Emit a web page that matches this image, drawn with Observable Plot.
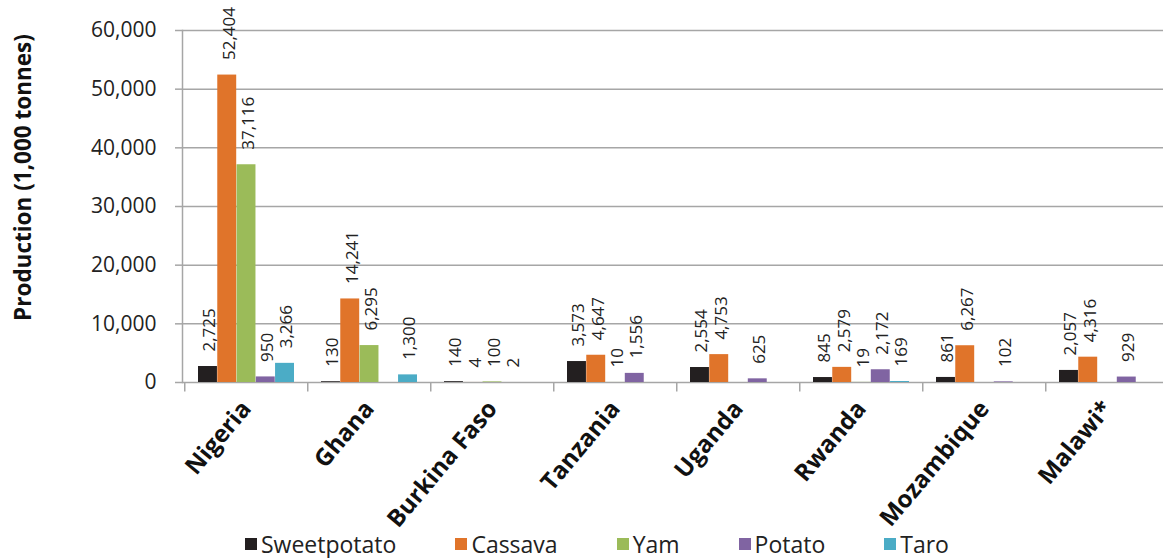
<!DOCTYPE html>
<html>
<head>
<meta charset="utf-8">
<script src="https://cdn.jsdelivr.net/npm/d3@7"></script>
<script src="https://cdn.jsdelivr.net/npm/@observablehq/plot@0.6"></script>
<style>
  html, body { margin: 0; padding: 0; background: #fff; }
  #chart { width: 1163px; font-family: "Open Sans", sans-serif; }
  #chart svg { overflow: visible; }
  .lg-swatches { justify-content: flex-start; padding-left: 245px; margin: 4px 0 0 0 !important; min-height: 0 !important; height: 28px; align-items: center; }
  .lg-swatch { margin-right: 59px !important; line-height: 28px; }
  .lg-swatch > svg { margin-right: 4px !important; }
</style>
</head>
<body>
<div id="chart"></div>
<script>
const countries = ["Nigeria", "Ghana", "Burkina Faso", "Tanzania", "Uganda", "Rwanda", "Mozambique", "Malawi*"];
const crops = ["Sweetpotato", "Cassava", "Yam", "Potato", "Taro"];
const sweetpotato = [2725, 130, 140, 3573, 2554, 845, 861, 2057];
const cassava     = [52404, 14241, 4, 4647, 4753, 2579, 6267, 4316];
const yam         = [37116, 6295, 100, 10, null, 19, null, null];
const potato      = [950, null, 2, 1556, 625, 2172, 102, 929];
const taro        = [3266, 1300, null, null, null, 169, null, null];
const yTicks = [0, 10000, 20000, 30000, 40000, 50000, 60000];
const colors = ["#231f20", "#e0742a", "#9bbb59", "#8064a2", "#4bacc6"];

const series = [sweetpotato, cassava, yam, potato, taro];
const rows = [];
crops.forEach((crop, ci) => {
  countries.forEach((country, k) => {
    const v = series[ci][k];
    if (v != null) rows.push({country, crop, value: v});
  });
});

const W = 1163, H = 526;
const xRange = [182, 1170];
const padIn = 0.22, padOut = 0.11;
const band = d3.scaleBand().domain(countries).range(xRange).paddingInner(padIn).paddingOuter(padOut);
const bw = band.bandwidth() / crops.length;
const step = band.step();
const fmt = d3.format(",");
const font = "Open Sans, sans-serif";
const grid = "#a6a6a6";

const marks = [
  Plot.ruleY(yTicks.slice(1), {stroke: grid, strokeWidth: 1.5}),
  Plot.ruleY([0], {stroke: grid, strokeWidth: 1.5}),
  Plot.frame({anchor: "left", stroke: grid, strokeWidth: 1.5}),
  Plot.ruleX(countries, {x: d => d, dx: -step / 2, y1: 0, y2: -1600, stroke: grid, strokeWidth: 1.5}),
  Plot.axisY({ticks: yTicks, tickFormat: d => fmt(d), tickSize: 7, tickPadding: 19, fontSize: 21, fill: "#222", stroke: grid, strokeWidth: 1.5, label: null}),
  Plot.axisX({tickSize: 0, tickPadding: 22, tickRotate: -50, fontSize: 24, fontWeight: "bold", fill: "#111", label: null}),
  Plot.text(["Production (1,000 tonnes)"], {frameAnchor: "left", textAnchor: "middle", rotate: -90, dx: -159, dy: -29, fontSize: 22.5, fontWeight: "bold", fill: "#111"})
];
crops.forEach((crop, i) => {
  const data = rows.filter(d => d.crop === crop);
  marks.push(Plot.barY(data, {x: "country", y: "value", fill: "crop", insetLeft: i * bw, insetRight: (crops.length - 1 - i) * bw}));
});
crops.forEach((crop, i) => {
  const data = rows.filter(d => d.crop === crop);
  marks.push(Plot.text(data, {x: "country", y: "value", text: d => fmt(d.value), dx: (i - 2) * bw + 2, dy: -15, rotate: -90, textAnchor: "start", fontSize: 17, fill: "#222"}));
});

const chart = Plot.plot({
  width: W,
  height: H,
  marginLeft: xRange[0],
  marginRight: 0,
  marginTop: 30,
  marginBottom: H - 382,
  style: {fontFamily: font, background: "#fff", overflow: "visible"},
  x: {type: "band", domain: countries, range: xRange, paddingInner: padIn, paddingOuter: padOut},
  y: {domain: [0, 60000]},
  color: {domain: crops, range: colors},
  marks
});
document.getElementById("chart").appendChild(chart);

const legend = Plot.legend({
  legend: "swatches",
  color: {domain: crops, range: colors},
  swatchSize: 12,
  className: "lg",
  style: {fontFamily: font, fontSize: "23px", color: "#222"}
});
document.getElementById("chart").appendChild(legend);
</script>
</body>
</html>
